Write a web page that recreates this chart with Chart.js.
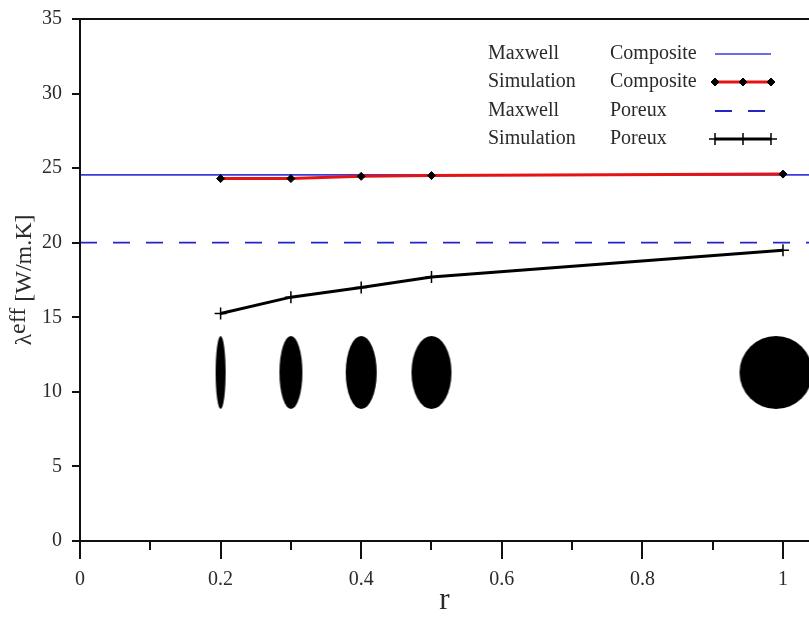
<!DOCTYPE html>
<html>
<head>
<meta charset="utf-8">
<script src="https://cdn.jsdelivr.net/npm/chart.js@4"></script>
<style>
  html, body { margin: 0; padding: 0; background: #fff; }
  canvas { display: block; }
</style>
</head>
<body>
<canvas id="chart" width="809" height="619"></canvas>
<script>
// Aspect ratio r of the inclusions and the simulated effective conductivities
const ratios = [0.2, 0.3, 0.4, 0.5, 1.0];
const simComposite = [24.3, 24.3, 24.45, 24.5, 24.6];
const simPoreux = [15.25, 16.35, 17.0, 17.7, 19.5];

// Maxwell estimates (independent of r)
const maxwellComposite = 24.55;
const maxwellPoreux = 20.0;

// Sketches of the inclusion shapes, placed along r
const shapeR = [0.2, 0.3, 0.4, 0.5, 0.99];
const shapeLevel = 11.3;

// Axis ranges and ticks
const xRange = [0, 1.037];
const yRange = [0, 35];
const xTicks = [0, 0.2, 0.4, 0.6, 0.8, 1];
const xMinorTicks = [0.1, 0.3, 0.5, 0.7, 0.9];
const yTicks = [0, 5, 10, 15, 20, 25, 30, 35];

// Legend text: model and material columns
const legendModel = ['Maxwell', 'Simulation', 'Maxwell', 'Simulation'];
const legendMaterial = ['Composite', 'Composite', 'Poreux', 'Poreux'];

const FAMILY = "'Liberation Serif', 'Times New Roman', serif";
const TEXT = '#2a2a2a';
const AXIS = '#111';

// Filled ellipse sprites used as point styles for the shape sketches
const shapeWidths = [10, 23, 31, 40, 73];
const shapeHeight = 73;
const shapeSprites = shapeWidths.map(w => {
  const c = document.createElement('canvas');
  c.width = w + 2; c.height = shapeHeight + 2;
  const g = c.getContext('2d');
  g.fillStyle = '#000';
  g.beginPath();
  g.ellipse(c.width / 2, c.height / 2, w / 2, shapeHeight / 2, 0, 0, Math.PI * 2);
  g.fill();
  return c;
});

const pts = (xs, ys) => xs.map((x, i) => ({ x, y: ys[i] }));
const flat = v => xRange.map(x => ({ x, y: v }));

// Axis frame: left axis, bottom axis, top border and outward ticks
const framePlugin = {
  id: 'frame',
  afterDatasetsDraw(chart) {
    const { ctx, chartArea: a, scales: { x, y } } = chart;
    ctx.save();
    ctx.strokeStyle = AXIS;
    ctx.lineWidth = 2;
    ctx.lineCap = 'butt';
    ctx.beginPath();
    ctx.moveTo(a.left, a.top); ctx.lineTo(a.left, a.bottom + 18);
    ctx.moveTo(a.left - 8, a.bottom); ctx.lineTo(a.right, a.bottom);
    ctx.moveTo(a.left - 8, a.top); ctx.lineTo(a.right, a.top);
    yTicks.forEach(v => {
      const py = Math.round(y.getPixelForValue(v));
      ctx.moveTo(a.left - 8, py); ctx.lineTo(a.left, py);
    });
    xTicks.forEach(v => {
      const px = Math.round(x.getPixelForValue(v));
      ctx.moveTo(px, a.bottom); ctx.lineTo(px, a.bottom + 18);
    });
    xMinorTicks.forEach(v => {
      const px = Math.round(x.getPixelForValue(v));
      ctx.moveTo(px, a.bottom); ctx.lineTo(px, a.bottom + 9);
    });
    ctx.stroke();
    ctx.restore();
  }
};

// Two-column legend with line samples, top right of the plot
const legendPlugin = {
  id: 'pairLegend',
  afterDraw(chart) {
    const { ctx } = chart;
    const col1 = 488, col2 = 610, s0 = 715, s1 = 771, top = 54, step = 28.3;
    ctx.save();
    ctx.font = `20px ${FAMILY}`;
    ctx.textBaseline = 'middle';
    ctx.textAlign = 'left';
    legendModel.forEach((model, i) => {
      const yy = Math.round(top + i * step);
      ctx.fillStyle = TEXT;
      ctx.fillText(model, col1, yy);
      ctx.fillText(legendMaterial[i], col2, yy);
      const ds = chart.data.datasets[i];
      ctx.save();
      ctx.strokeStyle = ds.borderColor;
      ctx.lineWidth = ds.borderWidth;
      ctx.setLineDash(ds.borderDash || []);
      ctx.beginPath();
      ctx.moveTo(s0, yy); ctx.lineTo(s1, yy);
      ctx.stroke();
      ctx.restore();
      if (ds.pointRadius) {
        const r = ds.pointRadius;
        ctx.fillStyle = ds.pointBackgroundColor || '#000';
        ctx.strokeStyle = ds.pointBorderColor || '#000';
        ctx.lineWidth = ds.pointBorderWidth;
        [s0, (s0 + s1) / 2, s1].forEach(px => {
          ctx.beginPath();
          if (ds.pointStyle === 'rectRot') {
            ctx.moveTo(px, yy - r); ctx.lineTo(px + r, yy); ctx.lineTo(px, yy + r); ctx.lineTo(px - r, yy);
            ctx.closePath(); ctx.fill(); ctx.stroke();
          } else {
            ctx.moveTo(px, yy - r); ctx.lineTo(px, yy + r);
            ctx.moveTo(px - r, yy); ctx.lineTo(px + r, yy);
            ctx.stroke();
          }
        });
      }
    });
    ctx.restore();
  }
};

// Vertical axis title with the raised "eff" suffix
const yTitlePlugin = {
  id: 'yTitle',
  afterDraw(chart) {
    const { ctx, chartArea: a } = chart;
    const parts = [['λ', 0], ['eff', 6], [' [W/m.K]', 0]];
    ctx.save();
    ctx.font = `24px ${FAMILY}`;
    ctx.fillStyle = TEXT;
    ctx.textBaseline = 'middle';
    ctx.textAlign = 'left';
    const total = parts.reduce((s, p) => s + ctx.measureText(p[0]).width, 0);
    ctx.translate(25, (a.top + a.bottom) / 2);
    ctx.rotate(-Math.PI / 2);
    let cx = -total / 2;
    parts.forEach(([t, lift]) => {
      ctx.fillText(t, cx, -lift);
      cx += ctx.measureText(t).width;
    });
    ctx.restore();
  }
};

new Chart(document.getElementById('chart'), {
  type: 'scatter',
  data: {
    datasets: [
      {
        label: 'Maxwell Composite',
        data: flat(maxwellComposite),
        showLine: true, borderColor: '#3b3bdc', borderWidth: 1.6,
        pointRadius: 0, order: 4
      },
      {
        label: 'Simulation Composite',
        data: pts(ratios, simComposite),
        showLine: true, borderColor: '#e41414', borderWidth: 3,
        pointStyle: 'rectRot', pointRadius: 4,
        pointBackgroundColor: '#000', pointBorderColor: '#000', pointBorderWidth: 1,
        order: 1
      },
      {
        label: 'Maxwell Poreux',
        data: flat(maxwellPoreux),
        showLine: true, borderColor: '#2424c8', borderWidth: 1.8, borderDash: [17, 16],
        pointRadius: 0, order: 3
      },
      {
        label: 'Simulation Poreux',
        data: pts(ratios, simPoreux),
        showLine: true, borderColor: '#000', borderWidth: 3,
        pointStyle: 'cross', pointRadius: 6,
        pointBorderColor: '#000', pointBorderWidth: 1.5,
        order: 2
      },
      {
        label: 'Inclusions',
        data: shapeR.map(x => ({ x, y: shapeLevel })),
        showLine: false,
        pointStyle: ctx => shapeSprites[ctx.dataIndex],
        pointRadius: 36, order: 5
      }
    ]
  },
  options: {
    responsive: false,
    animation: false,
    devicePixelRatio: 1,
    layout: { autoPadding: false, padding: { top: 19, right: 0, left: 0, bottom: 0 } },
    plugins: { legend: { display: false }, tooltip: { enabled: false } },
    scales: {
      x: {
        type: 'linear', min: xRange[0], max: xRange[1],
        afterBuildTicks: s => { s.ticks = xTicks.map(v => ({ value: v })); },
        afterFit: s => { s.height = 78; s.paddingLeft = 0; s.paddingRight = 0; },
        ticks: { font: { family: FAMILY, size: 20 }, color: TEXT, padding: 9, callback: v => String(v), maxRotation: 0 },
        grid: { display: true, drawOnChartArea: false, drawTicks: true, tickLength: 18, color: 'rgba(0,0,0,0)', tickColor: 'rgba(0,0,0,0)' },
        border: { display: false },
        title: { display: true, text: 'r', font: { family: FAMILY, size: 31 }, color: TEXT, padding: { top: 0, bottom: 0 } }
      },
      y: {
        type: 'linear', min: yRange[0], max: yRange[1],
        afterBuildTicks: s => { s.ticks = yTicks.map(v => ({ value: v })); },
        afterFit: s => { s.width = 80; s.paddingTop = 0; s.paddingBottom = 0; },
        ticks: { font: { family: FAMILY, size: 20 }, color: TEXT, padding: 10 },
        grid: { display: true, drawOnChartArea: false, drawTicks: true, tickLength: 8, color: 'rgba(0,0,0,0)', tickColor: 'rgba(0,0,0,0)' },
        border: { display: false },
        title: { display: false }
      }
    }
  },
  plugins: [framePlugin, legendPlugin, yTitlePlugin]
});
</script>
</body>
</html>
